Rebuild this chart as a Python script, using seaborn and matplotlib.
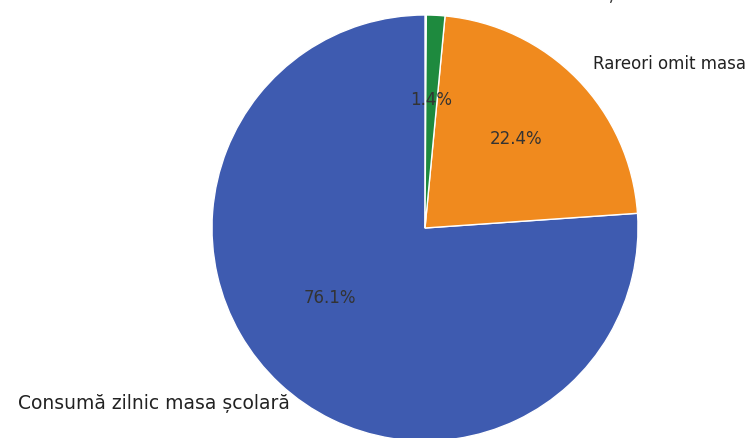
import matplotlib
matplotlib.use("Agg")
import matplotlib.pyplot as plt
import seaborn as sns

sns.set_theme(style="white")
plt.rcParams['font.family'] = ['DejaVu Sans']

labels = ["Consumă zilnic masa școlară", "Rareori omit masa", "Frecvent omit masa școlară"]
values = [76.1, 22.4, 1.4]
colors = ["#3e5bb0", "#f08a1e", "#1e8a3e"]

W, H = 756, 438
fig = plt.figure(figsize=(W / 100, H / 100), dpi=100)
r = 213
cx, cy = 425, 228
ax = fig.add_axes([(cx - r) / W, (H - cy - r) / H, 2 * r / W, 2 * r / H])
fractions = [v / 100 for v in values]
wedges, texts, autotexts = ax.pie(fractions, labels=labels, colors=colors, startangle=90,
                                  normalize=False,
                                  autopct="%1.1f%%", pctdistance=0.6, labeldistance=1.1,
                                  textprops={"fontsize": 12, "color": "#222222"})
for t in autotexts:
    t.set_color("#333333")
    t.set_fontsize(12)
# adjust the large-slice texts to the reference placement
texts[0].set_position((-0.634, -0.822))
texts[0].set_fontsize(13.5)
autotexts[0].set_position((-0.446, -0.329))
ax.set_xlim(-1, 1)
ax.set_ylim(-1, 1)
ax.set_aspect("equal")
fig.savefig("out.png", dpi=100)
